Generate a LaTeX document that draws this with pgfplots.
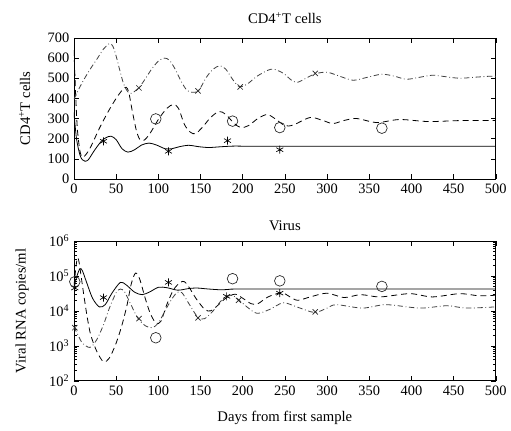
\documentclass[border=0pt]{standalone}
\usepackage{fontspec}
\setmainfont{Liberation Serif}
\usepackage{pgfplots}
\pgfplotsset{compat=1.18}

\pgfplotsset{
  panel/.style={
    scale only axis, anchor=south west,
    width=316.5pt, xmin=0, xmax=500,
    xtick={0,50,...,500},
    tick align=inside,
    major tick length=3.8pt, minor tick length=2pt,
    axis line style={line width=0.5pt},
    every tick/.style={black, line width=0.4pt},
    tick label style={font=\fontsize{10.8}{12}\selectfont},
    label style={font=\fontsize{11}{13}\selectfont},
    title style={font=\fontsize{11}{13}\selectfont, at={(axis description cs:0.5,1)}, anchor=center},
    /pgf/number format/assume math mode=true,
  },
  sol/.style={black, line width=0.6pt, smooth},
  dsh/.style={black, line width=0.6pt, smooth, dash pattern=on 4.5pt off 3pt},
  dsd/.style={black!75, line width=0.6pt, smooth, dash pattern=on 4pt off 2pt on 0.6pt off 2pt},
  mstar/.style={only marks, mark=asterisk, mark size=3pt, black, mark options={line width=0.5pt}},
  mcirc/.style={only marks, mark=o, mark size=4pt, black!85, mark options={line width=0.5pt}},
  mcross/.style={only marks, mark=x, mark size=2.8pt, black!85, mark options={line width=0.5pt}},
}

\begin{document}
\begin{tikzpicture}
\path (0pt,0pt) rectangle (383.25pt,323.25pt);

% upper panel: CD4+ T cells
\begin{axis}[panel, at={(55.5pt,189pt)}, height=105.75pt,
  ymin=0, ymax=700, ytick={0,100,...,700},
  title={CD4\textsuperscript{+}T cells}, title style={yshift=9pt},
  ylabel={CD4\textsuperscript{+}T cells},
  ylabel style={at={(axis description cs:-0.117,0.5)}, anchor=center},
]
\addplot[sol] coordinates {(0,330) (3,200) (7,120) (10,95) (13,88) (17,95) (24,140) (32,185) (38,205) (44,212) (50,195) (57,150) (64,133) (72,145) (80,168) (89,178) (98,168) (108,150) (116,150) (125,160) (136,167) (148,160) (160,156) (175,160) (190,163) (210,162) (250,162) (500,162)};
\addplot[dsh] coordinates {(0,640) (2,420) (4,250) (7,140) (10,108) (14,120) (20,160) (30,250) (40,330) (50,400) (58,445) (62,455) (65,430) (69,340) (74,240) (78,197) (83,192) (90,225) (100,295) (110,350) (118,370) (124,350) (131,270) (138,232) (144,225) (152,255) (162,305) (172,335) (180,320) (190,275) (198,255) (207,265) (218,300) (229,320) (238,300) (250,265) (260,268) (280,305) (295,290) (307,275) (320,290) (335,300) (359,280) (386,295) (420,285) (460,290) (500,290)};
\addplot[dsd] coordinates {(0,395) (5,440) (12,495) (20,550) (28,600) (35,645) (42,672) (46,660) (50,610) (54,545) (59,470) (64,432) (68,425) (72,435) (78,458) (85,500) (92,545) (100,585) (107,600) (113,590) (120,545) (127,485) (134,440) (141,430) (148,440) (157,505) (165,545) (173,562) (180,545) (188,495) (196,458) (205,470) (217,510) (230,540) (237,545) (248,525) (258,490) (265,480) (275,500) (286,522) (300,530) (315,510) (331,490) (348,505) (365,520) (380,510) (394,495) (410,505) (425,515) (440,508) (457,500) (475,505) (493,510) (500,510)};
\addplot[mstar] coordinates {(35,187) (112,137) (182,190) (244,145)};
\addplot[mcirc] coordinates {(97,298) (188,287) (244,255) (365,252)};
\addplot[mcross] coordinates {(77,452) (147,437) (197,457) (286,524)};
\end{axis}

% lower panel: virus
\begin{axis}[panel, at={(55.5pt,37.5pt)}, height=105pt,
  ymode=log, ymin=1e2, ymax=1e6,
  ytick={1e2,1e3,1e4,1e5,1e6},
  yticklabels={10\textsuperscript{2},10\textsuperscript{3},10\textsuperscript{4},10\textsuperscript{5},10\textsuperscript{6}},
  title={Virus}, title style={yshift=5pt},
  ylabel={Viral RNA copies/ml},
  ylabel style={at={(axis description cs:-0.123,0.5)}, anchor=center},
  xlabel={Days from first sample},
  xlabel style={at={(axis description cs:0.5,0)}, anchor=center, yshift=-27.5pt},
]
\addplot[sol] coordinates {(0,4.5e4) (3,9e4) (7,1.6e5) (10,1.4e5) (15,6.5e4) (22,2.3e4) (30,1.3e4) (37,1.5e4) (45,3.2e4) (55,6.5e4) (62,5.5e4) (72,3.4e4) (81,2.9e4) (90,3.5e4) (100,4.7e4) (110,4.6e4) (123,3.9e4) (135,4.3e4) (145,4.5e4) (160,4.2e4) (175,4.0e4) (190,4.2e4) (210,4.2e4) (500,4.2e4)};
\addplot[dsh] coordinates {(0,5e4) (2,1.5e5) (4,3.3e5) (6,2.5e5) (9,8e4) (12,2.5e4) (16,6e3) (20,2e3) (27,7e2) (35,3.5e2) (42,4.5e2) (50,1.2e3) (57,4e3) (63,1.5e4) (68,6e4) (73,1.2e5) (78,8e4) (84,2.5e4) (90,9e3) (97,4.5e3) (103,5e3) (110,1.5e4) (118,4e4) (126,6.5e4) (131,6.8e4) (137,4.5e4) (145,2.2e4) (155,1.1e4) (162,1e4) (170,1.4e4) (180,2.3e4) (191,3e4) (200,2.3e4) (210,1.6e4) (218,1.6e4) (230,2.5e4) (246,3.3e4) (255,2.6e4) (265,2e4) (280,2.5e4) (300,3.2e4) (320,2.4e4) (340,2.9e4) (363,2.5e4) (398,3.1e4) (425,2.5e4) (457,3.1e4) (480,2.7e4) (500,2.8e4)};
\addplot[dsd] coordinates {(0,3.5e3) (5,2e3) (10,1.2e3) (19,9e2) (27,1.5e3) (35,4e3) (42,1.2e4) (50,3.3e4) (55,4.2e4) (60,3.5e4) (67,1.6e4) (76,6e3) (85,3.7e3) (93,3.3e3) (100,4.5e3) (108,1e4) (115,2e4) (122,3.3e4) (128,3.3e4) (137,1.5e4) (147,6.5e3) (155,6e3) (165,1e4) (175,2e4) (186,2.8e4) (194,2.2e4) (205,1.3e4) (217,8.5e3) (232,1.1e4) (248,1.7e4) (264,1.3e4) (285,9e3) (300,1.2e4) (311,1.5e4) (342,1.2e4) (370,1.5e4) (410,1.2e4) (442,1.4e4) (465,1.2e4) (500,1.3e4)};
\addplot[mstar] coordinates {(1,4.5e4) (35,2.4e4) (112,6.5e4) (181,2.6e4) (244,3.2e4)};
\addplot[mcirc] coordinates {(1,6.8e4) (97,1.7e3) (188,8.3e4) (244,7.2e4) (365,5e4)};
\addplot[mcross] coordinates {(1,3.3e3) (77,6e3) (147,6.3e3) (195,2e4) (286,9.3e3)};
\end{axis}
\end{tikzpicture}
\end{document}
